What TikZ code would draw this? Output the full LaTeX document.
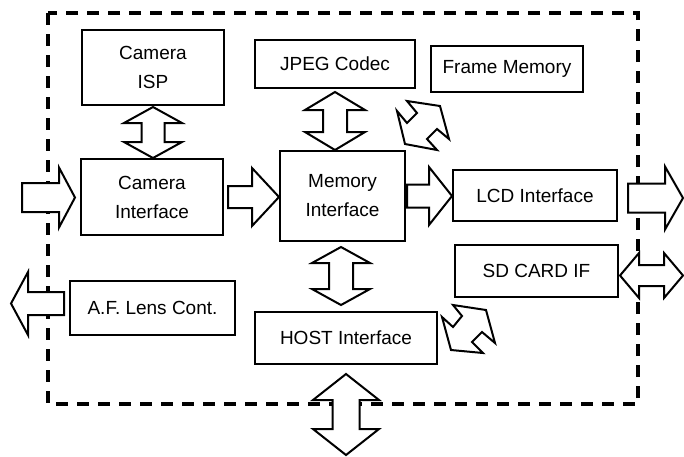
\documentclass[tikz,border=0pt]{standalone}
\usepackage{fontspec}
\setmainfont{Liberation Sans}
\begin{document}
\begin{tikzpicture}[x=1pt,y=-1pt,
  box/.style={draw, line width=1.8pt, inner sep=0pt, align=center,
    font=\fontsize{19}{29}\selectfont},
  blk/.style={draw, line width=2pt, fill=white, line join=miter},
  frame/.style={line width=3.5pt, dash pattern=on 12pt off 9pt},
  pics/harrow/.style n args={4}{code={
    \draw[blk] (0,-#3) -- ({#1-#2},-#3) -- ({#1-#2},-#4) -- (#1,0)
      -- ({#1-#2},#4) -- ({#1-#2},#3) -- (0,#3) -- cycle;}},
  pics/dblarrow/.style n args={4}{code={
    \draw[blk] ({-#1/2},0) -- ({-#1/2+#2},-#4) -- ({-#1/2+#2},-#3)
      -- ({#1/2-#2},-#3) -- ({#1/2-#2},-#4) -- ({#1/2},0)
      -- ({#1/2-#2},#4) -- ({#1/2-#2},#3) -- ({-#1/2+#2},#3)
      -- ({-#1/2+#2},#4) -- cycle;}}]
\useasboundingbox (0,0) rectangle (684,456);

% dashed frame
\draw[frame] (48,13) rectangle (638,404);

% blocks
\node[box, minimum width=142pt, minimum height=75pt] (isp) at (153,67.5) {Camera\\ISP};
\node[box, minimum width=160pt, minimum height=48pt] (jpeg) at (335,64) {JPEG Codec};
\node[box, minimum width=152pt, minimum height=46pt] (fmem) at (507,69) {Frame Memory};
\node[box, minimum width=142pt, minimum height=76pt] (camif) at (152,197) {Camera\\Interface};
\node[box, minimum width=125pt, minimum height=90pt] (mem) at (342.5,196) {Memory\\Interface};
\node[box, minimum width=164pt, minimum height=51pt] (lcd) at (535,195.5) {LCD Interface};
\node[box, minimum width=163pt, minimum height=52pt] (sd) at (536.5,271) {SD CARD IF};
\node[box, minimum width=165pt, minimum height=54pt] (af) at (152.5,308) {A.F. Lens Cont.};
\node[box, minimum width=182pt, minimum height=52pt] (host) at (346,338) {HOST Interface};

% vertical double arrows
\pic[rotate=90] at (153,132.5) {dblarrow={51}{16}{11.5}{29}};
\pic[rotate=90] at (335,121) {dblarrow={58}{18}{12}{30}};
\pic[rotate=90] at (341,276) {dblarrow={58}{16}{12}{29}};
\pic[rotate=90] at (346,414.5) {dblarrow={81}{26}{13.5}{33}};

% horizontal arrows
\pic at (22,197.5) {harrow={53}{16}{14.5}{30}};
\pic at (228,197) {harrow={51}{27}{11}{29}};
\pic at (407,196) {harrow={45}{23}{11.5}{29}};
\pic at (628,198) {harrow={55}{18}{14.5}{31.5}};
\pic[xscale=-1] at (64,303.5) {harrow={53}{17}{11.5}{31.5}};
\pic at (651.5,275.5) {dblarrow={63}{19}{10.5}{22.5}};

% diagonal double arrows
\draw[blk] (407,101) -- (440,106) -- (449,139) -- (437,129) -- (427,139)
  -- (437,150) -- (405,144) -- (397,111) -- (407,123) -- (417,113) -- cycle;
\draw[blk] (453,305) -- (486,310) -- (495,343) -- (482,332) -- (472,342)
  -- (483,353) -- (451,350) -- (442,317) -- (453,327) -- (462,316) -- cycle;
\end{tikzpicture}
\end{document}
